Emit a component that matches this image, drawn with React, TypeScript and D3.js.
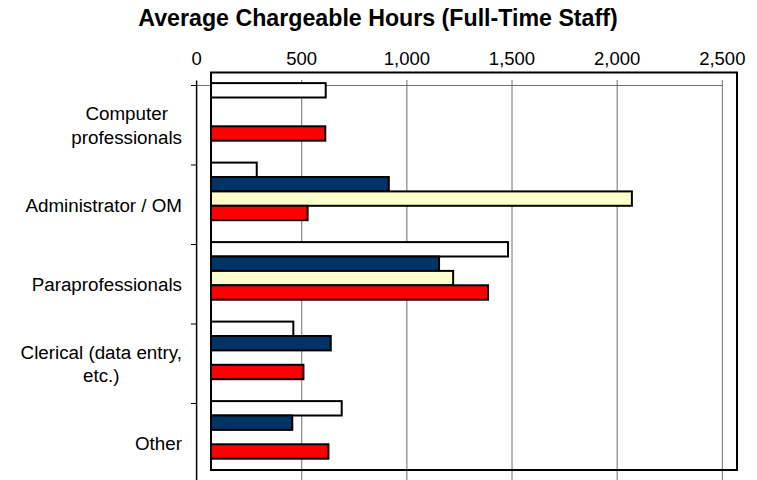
import React from "react";
import * as d3 from "d3";

const categories: string[][] = [
  ["Computer", "professionals"],
  ["Administrator / OM"],
  ["Paraprofessionals"],
  ["Clerical (data entry,", "etc.)"],
  ["Other"],
];
const seriesNames = ["Series A", "Series B", "Series C", "Series D"];
const seriesColors = ["#FFFFFF", "#003366", "#FFFFCC", "#FF0000"];
// values per series (null = no bar), order matches categories
const seriesA = [614, 286, 1481, 460, 690];
const seriesB = [null, 914, 1153, 638, 455];
const seriesC = [null, 2070, 1220, null, null];
const seriesD = [612, 528, 1386, 508, 627];
const allSeries = [seriesA, seriesB, seriesC, seriesD];
const tickValues = [0, 500, 1000, 1500, 2000, 2500];
const title = "Average Chargeable Hours (Full-Time Staff)";

const W = 757;
const H = 480;
const FONT = "'Liberation Sans', Arial, sans-serif";
const LABEL_SIZE = 18.8;

function measure(text: string, size: number): number {
  const c = document.createElement("canvas").getContext("2d");
  if (!c) return text.length * size * 0.5;
  c.font = `${size}px 'Liberation Sans', Arial, sans-serif`;
  return c.measureText(text).width;
}

export default function App() {
  const x = d3.scaleLinear().domain([0, 2500]).range([196.6, 722.3]);
  const catKeys = categories.map((c) => c.join(" "));
  const y = d3
    .scaleBand<string>()
    .domain(catKeys)
    .range([85.5, 85.5 + 5 * 79.5])
    .padding(0);
  const bw = y.bandwidth();
  const slot = 14.4;
  const box = { x0: 211, x1: 737, y0: 72.5, y1: 470 };
  const axisX = x(0);

  return (
    <svg
      width={W}
      height={H}
      style={{ position: "absolute", left: 0, top: 0, background: "#fff" }}
      fontFamily={FONT}
    >
      <rect x={0} y={0} width={W} height={H} fill="#fff" />
      {/* title */}
      <text
        x={378}
        y={26}
        textAnchor="middle"
        fontWeight="bold"
        fontSize={23.2}
        fill="#000"
      >
        {title}
      </text>
      {/* value tick labels */}
      {tickValues.map((t) => (
        <text
          key={"tl" + t}
          x={x(t)}
          y={65}
          textAnchor="middle"
          fontSize={18.5}
          fill="#000"
        >
          {d3.format(",")(t)}
        </text>
      ))}
      {/* vertical gridlines */}
      {tickValues
        .filter((t) => t > 0)
        .map((t) => (
          <line
            key={"g" + t}
            x1={x(t)}
            x2={x(t)}
            y1={80}
            y2={H}
            stroke="#6e6e6e"
            strokeWidth={1}
          />
        ))}
      {/* value axis line */}
      <line x1={191} x2={x(2500)} y1={85.5} y2={85.5} stroke="#6e6e6e" strokeWidth={1} />
      {/* category axis */}
      <line x1={axisX} x2={axisX} y1={80.5} y2={H} stroke="#000" strokeWidth={1.5} />
      {catKeys.map((k) => (
        <line
          key={"ct" + k}
          x1={191}
          x2={axisX}
          y1={y(k)!}
          y2={y(k)!}
          stroke="#000"
          strokeWidth={1}
        />
      ))}
      {/* category labels */}
      {categories.map((lines, ci) => {
        const k = catKeys[ci];
        const cy = y(k)! + bw / 2;
        const maxW = Math.max(...lines.map((l) => measure(l, LABEL_SIZE)));
        const right = 182;
        const cx = right - maxW / 2;
        const lh = 23.3;
        const first = cy - ((lines.length - 1) * lh) / 2 + LABEL_SIZE * 0.36;
        return (
          <text key={"cl" + k} fontSize={LABEL_SIZE} fill="#000" textAnchor="middle">
            {lines.map((l, li) => (
              <tspan key={li} x={cx} y={first + li * lh}>
                {l}
              </tspan>
            ))}
          </text>
        );
      })}
      {/* bars */}
      {allSeries.map((vals, si) =>
        vals.map((v, ci) => {
          if (v == null) return null;
          const k = catKeys[ci];
          const top = y(k)! - 2.4 + si * slot;
          return (
            <rect
              key={seriesNames[si] + ci}
              x={box.x0}
              y={top}
              width={x(v) - box.x0}
              height={slot}
              fill={seriesColors[si]}
              stroke="#000"
              strokeWidth={2}
            />
          );
        })
      )}
      {/* plot area box */}
      <rect
        x={box.x0}
        y={box.y0}
        width={box.x1 - box.x0}
        height={box.y1 - box.y0}
        fill="none"
        stroke="#000"
        strokeWidth={2}
      />
    </svg>
  );
}
